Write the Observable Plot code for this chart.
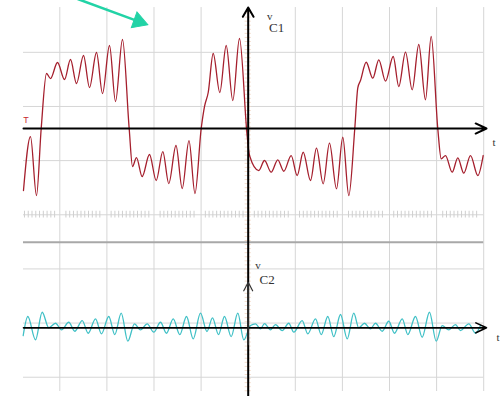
<!DOCTYPE html>
<html>
<head>
<meta charset="utf-8">
<script src="https://cdn.jsdelivr.net/npm/d3@7"></script>
<script src="https://cdn.jsdelivr.net/npm/@observablehq/plot@0.6"></script>
<style>
  html, body { margin: 0; padding: 0; background: #ffffff; }
  #chart svg { display: block; }
</style>
</head>
<body>
<div id="chart"></div>
<script>
// ---- Data (time in grid divisions, voltage in grid divisions relative to each trace's axis) ----
const vc1T = [-4.771,-4.622,-4.495,-4.395,-4.282,-4.197,-4.049,-3.900,-3.773,-3.645,-3.497,-3.369,-3.221,-3.093,-2.945,-2.817,-2.669,-2.527,-2.456,-2.372,-2.251,-2.096,-1.953,-1.813,-1.686,-1.533,-1.401,-1.257,-1.130,-0.998,-0.928,-0.849,-0.743,-0.603,-0.467,-0.327,-0.185,-0.021,0.028,0.225,0.346,0.488,0.628,0.756,0.913,1.040,1.168,1.323,1.450,1.592,1.726,1.875,2.008,2.136,2.263,2.327,2.384,2.505,2.645,2.773,2.915,3.079,3.197,3.340,3.482,3.622,3.764,3.885,4.025,4.098,4.189,4.331,4.450,4.577,4.720,4.875,4.989];
const vc1V = [-1.145,-0.148,-1.237,0,1.016,0.923,1.219,0.905,1.274,0.831,1.348,0.757,1.404,0.646,1.533,0.499,1.644,0,-0.702,-0.536,-0.886,-0.480,-0.960,-0.425,-1.016,-0.314,-1.108,-0.222,-1.200,0,0.406,0.665,1.385,0.665,1.533,0.517,1.662,-0.148,-0.499,-0.776,-0.591,-0.807,-0.578,-0.789,-0.499,-0.868,-0.438,-0.960,-0.364,-1.021,-0.271,-1.114,-0.161,-1.237,0,0.752,0.886,1.224,0.929,1.269,0.874,1.330,0.776,1.409,0.715,1.551,0.530,1.699,0,-0.560,-0.499,-0.807,-0.541,-0.825,-0.499,-0.868,-0.499];

const vc2T = [-4.777,-4.679,-4.516,-4.374,-4.234,-4.091,-3.964,-3.809,-3.682,-3.524,-3.397,-3.242,-3.115,-2.960,-2.832,-2.696,-2.556,-2.414,-2.287,-2.144,-2.004,-1.862,-1.735,-1.592,-1.452,-1.310,-1.168,-1.013,-0.875,-0.758,-0.631,-0.503,-0.361,-0.221,-0.093,0.049,0.155,0.261,0.346,0.473,0.580,0.722,0.862,0.968,1.146,1.265,1.429,1.550,1.690,1.817,1.960,2.102,2.242,2.348,2.469,2.597,2.703,2.845,2.985,3.106,3.270,3.389,3.552,3.694,3.849,3.992,4.119,4.259,4.401,4.507,4.684,4.826,4.932];
const vc2V = [-0.142,0.209,-0.222,0.288,0,0.085,-0.037,0.103,-0.063,0.135,-0.100,0.166,-0.111,0.209,-0.124,0.270,-0.247,0.074,-0.037,0.074,-0.081,0.103,-0.100,0.166,-0.124,0.209,-0.203,0.270,-0.068,0.185,-0.124,0.209,-0.161,0.270,-0.222,0.042,0.074,-0.018,0.079,-0.037,0.061,-0.050,0.085,-0.081,0.135,-0.111,0.166,-0.124,0.209,-0.161,0.246,-0.203,0.270,0,0.085,-0.018,0.085,-0.063,0.122,-0.100,0.166,-0.124,0.209,-0.174,0.288,-0.247,0.042,-0.037,0.061,-0.050,0.074,-0.100,0.042];

const gridTimes = [-4, -3, -2, -1, 0, 1, 2, 3, 4, 5];
const gridLevels = [0, 1, 2, 3, 4, 5, 6];
const labelTexts = ["v", "C1", "v", "C2", "t", "t", "T"];

// ---- Layout constants (grid divisions) ----
const C1_AXIS = 4.593;      // level of the vC1 time axis
const C2_AXIS = 0.912;      // level of the vC2 time axis
const SEPARATOR = 2.493;
const T_LEFT = -4.771, T_RIGHT = 5.0, T_ARROW = 5.06;
const G_BOTTOM = -0.264, G_TOP = 6.827;

const vc1 = vc1T.map((t, i) => ({t, v: vc1V[i]}));
const vc2 = vc2T.map((t, i) => ({t, v: vc2V[i]}));

const minorTicks = d3.range(-4.75, 4.95, 0.08).filter(t => Math.abs(t - Math.round(t)) > 0.08);
const axisTicks = d3.range(-0.25, 6.75, 0.075);

const serif = "Liberation Serif, Times New Roman, serif";
const labels = [
  {text: labelTexts[0], t: 0.399, v: 6.606, size: 11, font: serif, fill: "#333333"},
  {text: labelTexts[1], t: 0.442, v: 6.371, size: 13, font: serif, fill: "#333333"},
  {text: labelTexts[2], t: 0.151, v: 1.998, size: 11, font: serif, fill: "#333333"},
  {text: labelTexts[3], t: 0.240, v: 1.730, size: 13, font: serif, fill: "#333333"},
  {text: labelTexts[4], t: 5.187, v: 4.270, size: 11, font: serif, fill: "#333333"},
  {text: labelTexts[5], t: 5.272, v: 0.678, size: 11, font: serif, fill: "#333333"},
  {text: labelTexts[6], t: -4.777, v: 4.694, size: 9, font: "Liberation Sans, Arial, sans-serif", fill: "#c8262c"}
];

const pointer = [{t1: -3.62, v1: 6.985, t2: -2.36, v2: 6.58, tipT: -2.325, tipV: 6.571}];

const chart = Plot.plot({
  width: 501,
  height: 396,
  margin: 0,
  x: {domain: [-5.259, 5.378], axis: null},
  y: {domain: [-0.356, 6.957], axis: null},
  style: {background: "#ffffff", overflow: "visible"},
  marks: [
    // grid
    Plot.ruleX(gridTimes, {y1: G_BOTTOM, y2: G_TOP, stroke: "#d6d6d6", strokeWidth: 1}),
    Plot.ruleY(gridLevels, {x1: T_LEFT, x2: T_RIGHT, stroke: "#d6d6d6", strokeWidth: 1}),
    Plot.ruleX(minorTicks, {y1: 2.94, y2: 3.065, stroke: "#cfcfcf", strokeWidth: 1}),
    Plot.ruleY([SEPARATOR], {x1: T_LEFT, x2: T_RIGHT, stroke: "#a8a8a8", strokeWidth: 2}),
    Plot.ruleY(axisTicks, {x1: -0.065, x2: 0.065, stroke: "#f3dccb", strokeWidth: 1}),
    // traces
    Plot.line(vc1, {x: "t", y: d => d.v + C1_AXIS, stroke: "#a51f2d", strokeWidth: 1.3, curve: "monotone-x"}),
    Plot.line(vc2, {x: "t", y: d => d.v + C2_AXIS, stroke: "#40c0c6", strokeWidth: 1.3, curve: "monotone-x"}),
    // axes
    Plot.arrow([0], {x1: T_LEFT, y1: C1_AXIS, x2: T_ARROW, y2: C1_AXIS, stroke: "#000", strokeWidth: 2, headLength: 9, headAngle: 50}),
    Plot.arrow([0], {x1: T_LEFT, y1: C2_AXIS, x2: T_ARROW, y2: C2_AXIS, stroke: "#000", strokeWidth: 1.6, headLength: 11, headAngle: 50}),
    Plot.arrow([0], {x1: 0, y1: -0.4, x2: 0, y2: G_TOP, stroke: "#000", strokeWidth: 2, headLength: 8, headAngle: 60}),
    Plot.arrow([0], {x1: 0, y1: 0.6, x2: 0, y2: 1.754, stroke: "#333", strokeWidth: 1.2, headLength: 12, headAngle: 55}),
    // pointer arrow
    Plot.link(pointer, {x1: "t1", y1: "v1", x2: "t2", y2: "v2", stroke: "#22d3a6", strokeWidth: 2.5}),
    Plot.dot(pointer, {x: "tipT", y: "tipV", symbol: "triangle", r: 6.2, rotate: 109.7, fill: "#22d3a6", stroke: "#22d3a6", strokeWidth: 1}),
    // labels
    ...labels.map(l => Plot.text([l], {x: "t", y: "v", text: "text", fontSize: l.size, fontFamily: l.font, fill: l.fill, textAnchor: "start", lineAnchor: "bottom"}))
  ]
});
document.getElementById("chart").appendChild(chart);
</script>
</body>
</html>
